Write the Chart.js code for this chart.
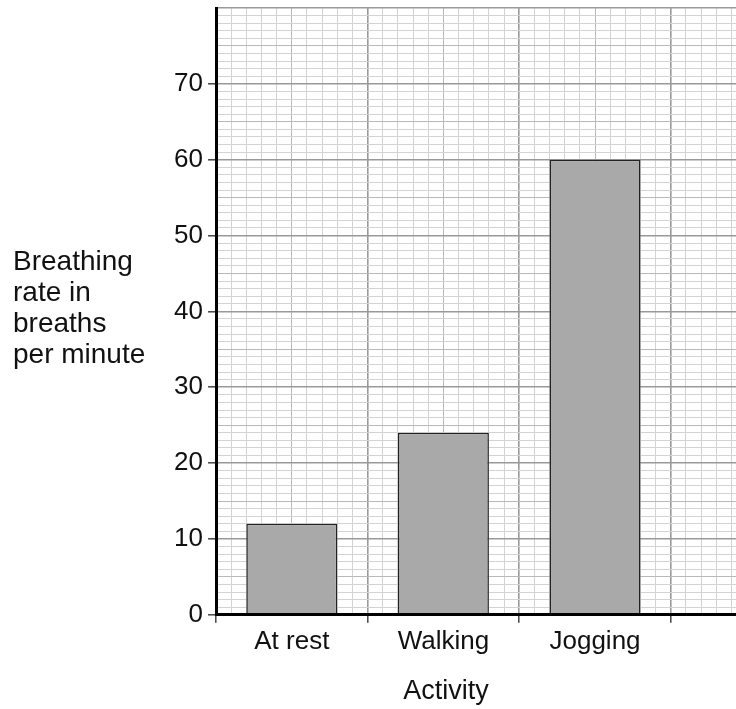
<!DOCTYPE html>
<html>
<head>
<meta charset="utf-8">
<script src="https://cdn.jsdelivr.net/npm/chart.js@4.4.1/dist/chart.umd.min.js"></script>
<style>
  body { margin: 0; background: #fff; }
  .wrap { position: relative; width: 736px; height: 709px; overflow: hidden; }
  .y-title {
    position: absolute; left: 13px; top: 245px;
    font: 28px "Liberation Sans", Arial, sans-serif; line-height: 31px; color: #111;
  }
  .x-title {
    position: absolute; left: 346px; width: 200px; top: 675px; text-align: center;
    font: 27px "Liberation Sans", Arial, sans-serif; line-height: 30px; color: #111;
  }
</style>
</head>
<body>
<div class="wrap">
  <canvas id="chart"></canvas>
  <div class="y-title">Breathing<br>rate in<br>breaths<br>per minute</div>
  <div class="x-title">Activity</div>
</div>
<script>
// data
const activities = ["At rest", "Walking", "Jogging"];
const breathingRate = [12, 24, 60];
const yTickLabels = [0, 10, 20, 30, 40, 50, 60, 70];
const yMax = 80;
const xMax = 3.43; // the paper is cut off part way into a 4th column

const FONT = "'Liberation Sans', Arial, sans-serif";

// grid paper colours: major every 10 small squares, a slightly darker line at 5
function gridColor(n) {
  if (n % 10 === 0) return "#999";
  if (n % 5 === 0) return "#b9b9b9";
  return "#d3d3d3";
}
function gridWidth(n) {
  return n % 10 === 0 ? 1.6 : 1;
}
// small squares counted from the tick in a scriptable context
function xStep(ctx) {
  return ctx.tick ? Math.round(ctx.tick.value * 10) : 0;
}
function yStep(ctx) {
  return ctx.tick ? Math.round(ctx.tick.value) : 0;
}

new Chart(document.getElementById("chart"), {
  type: "bar",
  data: {
    datasets: [{
      data: breathingRate.map((v, i) => ({ x: i + 0.5, y: v })),
      xAxisID: "xl",
      yAxisID: "y",
      backgroundColor: "#a9a9a9",
      borderColor: "#222",
      borderWidth: 1.5,
      barPercentage: 0.6,
      categoryPercentage: 1
    }]
  },
  options: {
    responsive: true,
    maintainAspectRatio: false,
    animation: false,
    layout: { padding: { top: 8, left: 0, right: 0, bottom: 49 } },
    plugins: {
      legend: { display: false },
      tooltip: { enabled: false }
    },
    scales: {
      // grid paper columns (10 small squares per activity)
      x: {
        type: "linear",
        position: "bottom",
        weight: 0,
        min: 0,
        max: xMax,
        offset: false,
        afterBuildTicks: (scale) => {
          scale.ticks = [];
          for (let i = 0; i <= Math.floor(xMax * 10); i++) scale.ticks.push({ value: i / 10 });
        },
        ticks: { display: false },
        grid: {
          offset: false,
          color: (ctx) => gridColor(xStep(ctx)),
          lineWidth: (ctx) => gridWidth(xStep(ctx)),
          tickLength: 8,
          tickWidth: 1.5,
          tickColor: (ctx) => xStep(ctx) % 10 === 0 ? "#444" : "rgba(0,0,0,0)"
        },
        border: { display: true, color: "#000", width: 3, z: 1 }
      },
      // activity names, centred in each column
      xl: {
        type: "linear",
        axis: "x",
        position: "bottom",
        weight: 1,
        min: 0,
        max: xMax,
        offset: false,
        afterBuildTicks: (scale) => {
          scale.ticks = activities.map((a, i) => ({ value: i + 0.5 }));
        },
        ticks: {
          autoSkip: false,
          maxRotation: 0,
          minRotation: 0,
          padding: 3,
          color: "#111",
          font: { family: FONT, size: 26 },
          callback: (value, index) => activities[index]
        },
        grid: { display: false, drawTicks: false, offset: false },
        border: { display: false }
      },
      y: {
        type: "linear",
        min: 0,
        max: yMax,
        afterFit: (scale) => {
          scale.width = 216;
          scale.paddingTop = 0;
          scale.paddingBottom = 0;
        },
        ticks: {
          stepSize: 1,
          autoSkip: false,
          padding: 5,
          color: "#111",
          font: { family: FONT, size: 26 },
          callback: (value) => yTickLabels.includes(value) ? String(value) : ""
        },
        grid: {
          color: (ctx) => gridColor(yStep(ctx)),
          lineWidth: (ctx) => gridWidth(yStep(ctx)),
          tickLength: 8,
          tickWidth: 1.5,
          tickColor: (ctx) => ctx.tick && yTickLabels.includes(ctx.tick.value) ? "#444" : "rgba(0,0,0,0)"
        },
        border: { display: true, color: "#000", width: 3, z: 1 }
      }
    }
  }
});
</script>
</body>
</html>
